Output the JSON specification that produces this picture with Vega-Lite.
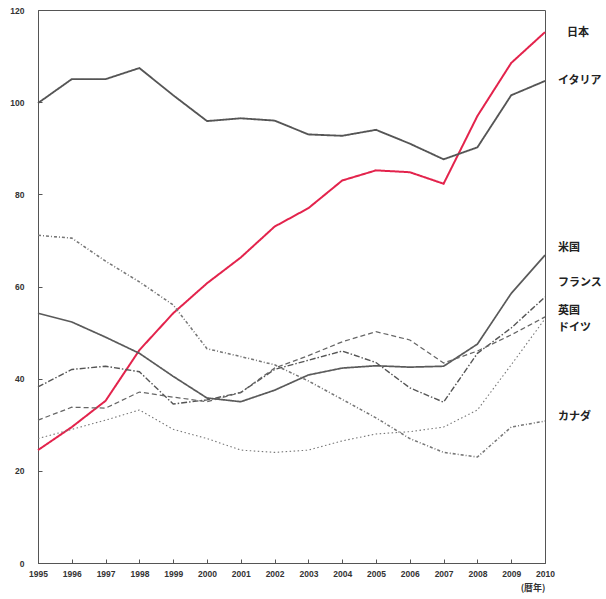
{
  "$schema": "https://vega.github.io/schema/vega-lite/v6.json",
  "width": 507,
  "height": 553,
  "autosize": {"type": "none"},
  "padding": {"left": 38, "top": 10, "right": 61, "bottom": 36},
  "background": "white",
  "config": {"view": {"stroke": "#555", "strokeWidth": 1}, "font": "Liberation Sans", "axis": {"labelOverlap": false}},
  "datasets": {
    "series": [
      {"country": "日本", "year": 1995, "value": 24.5}, {"country": "日本", "year": 1996, "value": 29.5}, {"country": "日本", "year": 1997, "value": 35.2}, {"country": "日本", "year": 1998, "value": 46.2}, {"country": "日本", "year": 1999, "value": 54.2}, {"country": "日本", "year": 2000, "value": 60.7}, {"country": "日本", "year": 2001, "value": 66.3}, {"country": "日本", "year": 2002, "value": 73}, {"country": "日本", "year": 2003, "value": 77}, {"country": "日本", "year": 2004, "value": 83}, {"country": "日本", "year": 2005, "value": 85.2}, {"country": "日本", "year": 2006, "value": 84.8}, {"country": "日本", "year": 2007, "value": 82.3}, {"country": "日本", "year": 2008, "value": 97}, {"country": "日本", "year": 2009, "value": 108.5}, {"country": "日本", "year": 2010, "value": 115.2},
      {"country": "イタリア", "year": 1995, "value": 99.8}, {"country": "イタリア", "year": 1996, "value": 105}, {"country": "イタリア", "year": 1997, "value": 105}, {"country": "イタリア", "year": 1998, "value": 107.4}, {"country": "イタリア", "year": 1999, "value": 101.5}, {"country": "イタリア", "year": 2000, "value": 95.9}, {"country": "イタリア", "year": 2001, "value": 96.5}, {"country": "イタリア", "year": 2002, "value": 96}, {"country": "イタリア", "year": 2003, "value": 93}, {"country": "イタリア", "year": 2004, "value": 92.7}, {"country": "イタリア", "year": 2005, "value": 94}, {"country": "イタリア", "year": 2006, "value": 91}, {"country": "イタリア", "year": 2007, "value": 87.6}, {"country": "イタリア", "year": 2008, "value": 90.2}, {"country": "イタリア", "year": 2009, "value": 101.5}, {"country": "イタリア", "year": 2010, "value": 104.6},
      {"country": "米国", "year": 1995, "value": 54.2}, {"country": "米国", "year": 1996, "value": 52.3}, {"country": "米国", "year": 1997, "value": 49}, {"country": "米国", "year": 1998, "value": 45.5}, {"country": "米国", "year": 1999, "value": 40.5}, {"country": "米国", "year": 2000, "value": 35.8}, {"country": "米国", "year": 2001, "value": 35}, {"country": "米国", "year": 2002, "value": 37.5}, {"country": "米国", "year": 2003, "value": 40.8}, {"country": "米国", "year": 2004, "value": 42.3}, {"country": "米国", "year": 2005, "value": 42.8}, {"country": "米国", "year": 2006, "value": 42.5}, {"country": "米国", "year": 2007, "value": 42.7}, {"country": "米国", "year": 2008, "value": 47.5}, {"country": "米国", "year": 2009, "value": 58.5}, {"country": "米国", "year": 2010, "value": 66.8},
      {"country": "カナダ", "year": 1995, "value": 71.1}, {"country": "カナダ", "year": 1996, "value": 70.5}, {"country": "カナダ", "year": 1997, "value": 65.5}, {"country": "カナダ", "year": 1998, "value": 61}, {"country": "カナダ", "year": 1999, "value": 56}, {"country": "カナダ", "year": 2000, "value": 46.5}, {"country": "カナダ", "year": 2001, "value": 44.8}, {"country": "カナダ", "year": 2002, "value": 43}, {"country": "カナダ", "year": 2003, "value": 39.5}, {"country": "カナダ", "year": 2004, "value": 35.5}, {"country": "カナダ", "year": 2005, "value": 31.5}, {"country": "カナダ", "year": 2006, "value": 27}, {"country": "カナダ", "year": 2007, "value": 24}, {"country": "カナダ", "year": 2008, "value": 23}, {"country": "カナダ", "year": 2009, "value": 29.5}, {"country": "カナダ", "year": 2010, "value": 30.8},
      {"country": "フランス", "year": 1995, "value": 38.2}, {"country": "フランス", "year": 1996, "value": 42}, {"country": "フランス", "year": 1997, "value": 42.7}, {"country": "フランス", "year": 1998, "value": 41.5}, {"country": "フランス", "year": 1999, "value": 34.5}, {"country": "フランス", "year": 2000, "value": 35.4}, {"country": "フランス", "year": 2001, "value": 37}, {"country": "フランス", "year": 2002, "value": 42}, {"country": "フランス", "year": 2003, "value": 44}, {"country": "フランス", "year": 2004, "value": 46}, {"country": "フランス", "year": 2005, "value": 43.5}, {"country": "フランス", "year": 2006, "value": 38}, {"country": "フランス", "year": 2007, "value": 34.9}, {"country": "フランス", "year": 2008, "value": 45.5}, {"country": "フランス", "year": 2009, "value": 51}, {"country": "フランス", "year": 2010, "value": 57.7},
      {"country": "ドイツ", "year": 1995, "value": 31}, {"country": "ドイツ", "year": 1996, "value": 33.8}, {"country": "ドイツ", "year": 1997, "value": 33.6}, {"country": "ドイツ", "year": 1998, "value": 37.1}, {"country": "ドイツ", "year": 1999, "value": 36}, {"country": "ドイツ", "year": 2000, "value": 35}, {"country": "ドイツ", "year": 2001, "value": 37}, {"country": "ドイツ", "year": 2002, "value": 42.3}, {"country": "ドイツ", "year": 2003, "value": 45}, {"country": "ドイツ", "year": 2004, "value": 48}, {"country": "ドイツ", "year": 2005, "value": 50.2}, {"country": "ドイツ", "year": 2006, "value": 48.4}, {"country": "ドイツ", "year": 2007, "value": 43.4}, {"country": "ドイツ", "year": 2008, "value": 46}, {"country": "ドイツ", "year": 2009, "value": 49.5}, {"country": "ドイツ", "year": 2010, "value": 53.4},
      {"country": "英国", "year": 1995, "value": 27}, {"country": "英国", "year": 1996, "value": 29}, {"country": "英国", "year": 1997, "value": 31}, {"country": "英国", "year": 1998, "value": 33.2}, {"country": "英国", "year": 1999, "value": 29}, {"country": "英国", "year": 2000, "value": 27}, {"country": "英国", "year": 2001, "value": 24.5}, {"country": "英国", "year": 2002, "value": 24}, {"country": "英国", "year": 2003, "value": 24.5}, {"country": "英国", "year": 2004, "value": 26.5}, {"country": "英国", "year": 2005, "value": 28}, {"country": "英国", "year": 2006, "value": 28.5}, {"country": "英国", "year": 2007, "value": 29.5}, {"country": "英国", "year": 2008, "value": 33.2}, {"country": "英国", "year": 2009, "value": 43}, {"country": "英国", "year": 2010, "value": 53}
    ],
    "labels": [
      {"name": "日本", "year": 2010, "pos": 115},
      {"name": "イタリア", "year": 2010, "pos": 104.5},
      {"name": "米国", "year": 2010, "pos": 68.3},
      {"name": "フランス", "year": 2010, "pos": 60.7},
      {"name": "英国", "year": 2010, "pos": 54.7},
      {"name": "ドイツ", "year": 2010, "pos": 51},
      {"name": "カナダ", "year": 2010, "pos": 31.7}
    ]
  },
  "encoding": {
    "x": {
      "field": "year", "type": "ordinal",
      "scale": {"type": "point", "padding": 0, "domain": [1995, 1996, 1997, 1998, 1999, 2000, 2001, 2002, 2003, 2004, 2005, 2006, 2007, 2008, 2009, 2010]},
      "axis": {
        "grid": false, "labelOverlap": false, "labelAngle": 0,
        "labelFontWeight": "bold", "labelFontSize": 8.5, "labelColor": "#333",
        "tickSize": -4, "tickColor": "#555", "domainColor": "#555", "labelPadding": 10,
        "title": "(暦年)", "titleFontSize": 9, "titleFontWeight": "bold", "titleColor": "#333",
        "titleFont": "Noto Sans CJK JP", "titleAnchor": "end", "titleAlign": "right", "titlePadding": 6
      }
    }
  },
  "layer": [
    {
      "data": {"name": "series"},
      "mark": {"type": "line", "clip": false},
      "encoding": {
        "y": {
          "field": "value", "type": "quantitative",
          "scale": {"domain": [0, 120], "nice": false},
          "axis": {
            "values": [0, 20, 40, 60, 80, 100, 120], "grid": false, "title": null, "labelOverlap": false,
            "labelFontWeight": "bold", "labelFontSize": 8.5, "labelColor": "#333",
            "tickSize": -4, "tickColor": "#555", "domainColor": "#555", "labelPadding": 18
          }
        },
        "detail": {"field": "country"},
        "color": {
          "field": "country", "type": "nominal", "legend": null,
          "scale": {
            "domain": ["日本", "イタリア", "米国", "カナダ", "フランス", "ドイツ", "英国"],
            "range": ["#e3234c", "#555555", "#5a5a5a", "#777777", "#555555", "#666666", "#777777"]
          }
        },
        "strokeDash": {
          "field": "country", "type": "nominal", "legend": null,
          "scale": {
            "domain": ["日本", "イタリア", "米国", "カナダ", "フランス", "ドイツ", "英国"],
            "range": [[1, 0], [1, 0], [1, 0], [3, 2, 1, 2], [6, 2, 1.5, 2], [5, 3], [1.5, 2.5]]
          }
        },
        "strokeWidth": {
          "field": "country", "type": "nominal", "legend": null,
          "scale": {
            "domain": ["日本", "イタリア", "米国", "カナダ", "フランス", "ドイツ", "英国"],
            "range": [2, 1.1, 1.1, 1.1, 1.1, 1.1, 1.1]
          }
        }
      }
    },
    {
      "data": {"name": "labels"},
      "transform": [{"filter": "datum.name === '日本'"}],
      "mark": {"type": "text", "align": "left", "baseline": "middle", "dx": 22, "font": "Noto Sans CJK JP", "fontWeight": "bold", "fontSize": 11, "fill": "#222", "clip": false},
      "encoding": {
        "y": {"field": "pos", "type": "quantitative"},
        "text": {"field": "name"}
      }
    },
    {
      "data": {"name": "labels"},
      "transform": [{"filter": "datum.name !== '日本'"}],
      "mark": {"type": "text", "align": "left", "baseline": "middle", "dx": 13, "font": "Noto Sans CJK JP", "fontWeight": "bold", "fontSize": 11, "fill": "#222", "clip": false},
      "encoding": {
        "y": {"field": "pos", "type": "quantitative"},
        "text": {"field": "name"}
      }
    }
  ]
}
